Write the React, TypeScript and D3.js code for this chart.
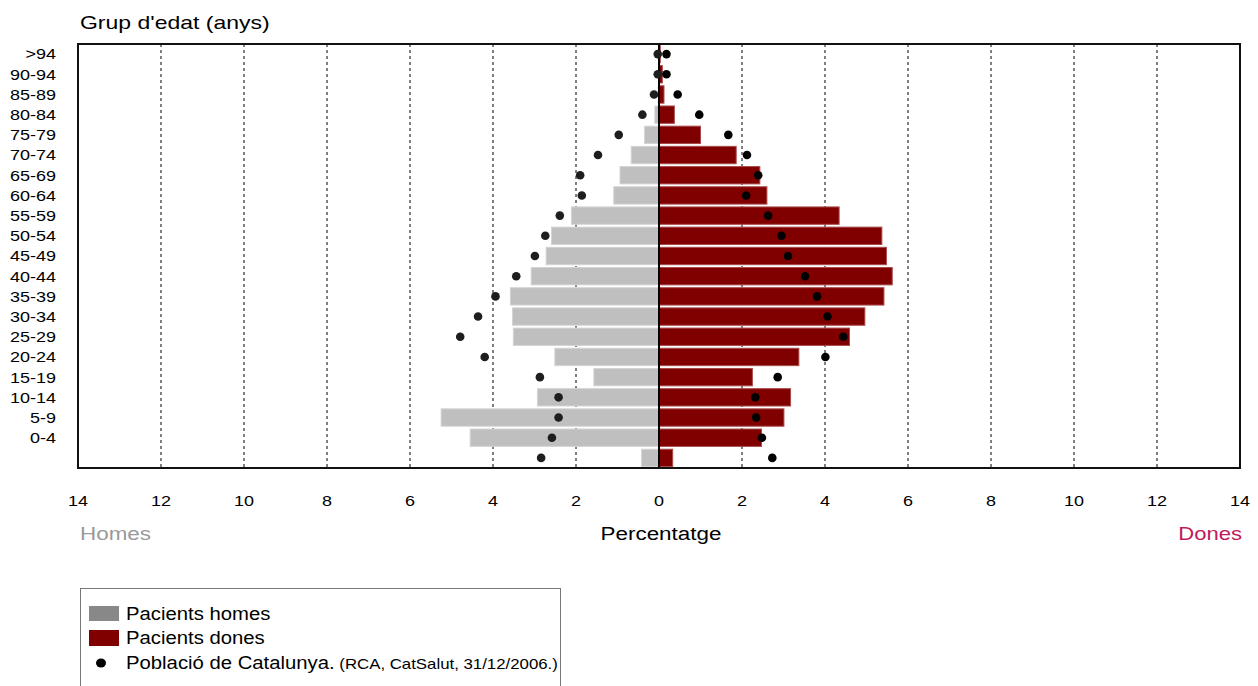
import React from "react";
import * as d3 from "d3";

const ageGroups = [">94", "90-94", "85-89", "80-84", "75-79", "70-74", "65-69", "60-64", "55-59", "50-54", "45-49", "40-44", "35-39", "30-34", "25-29", "20-24", "15-19", "10-14", "5-9", "0-4", ""];
const malePatients = [0.0, 0.0, 0.02, 0.1, 0.35, 0.67, 0.94, 1.09, 2.11, 2.59, 2.72, 3.08, 3.58, 3.53, 3.51, 2.51, 1.57, 2.93, 5.25, 4.55, 0.42];
const femalePatients = [0.03, 0.08, 0.12, 0.37, 1.0, 1.86, 2.43, 2.6, 4.34, 5.37, 5.48, 5.62, 5.42, 4.96, 4.59, 3.37, 2.25, 3.17, 3.01, 2.47, 0.33];
const malePopulation = [0.03, 0.03, 0.12, 0.4, 0.97, 1.47, 1.9, 1.86, 2.39, 2.74, 2.99, 3.44, 3.94, 4.36, 4.79, 4.2, 2.87, 2.42, 2.42, 2.58, 2.84];
const femalePopulation = [0.18, 0.18, 0.45, 0.97, 1.67, 2.12, 2.39, 2.1, 2.63, 2.95, 3.11, 3.52, 3.81, 4.06, 4.44, 4.01, 2.86, 2.32, 2.34, 2.48, 2.73];
const xTicks = [-14, -12, -10, -8, -6, -4, -2, 0, 2, 4, 6, 8, 10, 12, 14];

const FONT = "'Liberation Sans', Arial, sans-serif";

function Txt(props: { x: number; y: number; size: number; sx?: number; anchor?: string; fill?: string; dy?: string; children: React.ReactNode }) {
  const { x, y, size, sx = 1.2, anchor = "start", fill = "#000", dy, children } = props;
  return (
    <g transform={`translate(${x},${y}) scale(${sx},1)`}>
      <text x={0} y={0} dy={dy} fontSize={size} textAnchor={anchor} fill={fill}>{children}</text>
    </g>
  );
}

export default function App() {
  const W = 1258, H = 686;
  const left = 78, right = 1240, top = 44, bottom = 468;
  const x = d3.scaleLinear().domain([-14, 14]).range([left, right]);
  const idx = ageGroups.map((_, i) => String(i));
  const y = d3.scaleBand().domain(idx).range([top, bottom]).paddingInner(0.14).paddingOuter(0.07);
  const bw = y.bandwidth();
  const cy = (i: number) => (y(String(i)) as number) + bw / 2;
  const x0 = x(0);

  return (
    <svg width={W} height={H} style={{ position: "absolute", left: 0, top: 0, display: "block", fontFamily: FONT }}>
      <rect x={0} y={0} width={W} height={H} fill="#fff" />
      <Txt x={80} y={29} size={19} sx={1.21}>Grup d'edat (anys)</Txt>
      {xTicks.filter((t) => Math.abs(t) !== 14 && t !== 0).map((t) => (
        <line key={"g" + t} x1={x(t)} x2={x(t)} y1={top} y2={bottom} stroke="#000" strokeWidth={1} strokeDasharray="3,3" />
      ))}
      {malePatients.map((v, i) => (
        <rect key={"m" + i} x={x(-v)} y={y(String(i)) as number} width={x0 - x(-v)} height={bw} fill="#bfbfbf" stroke="#d4d4d4" strokeWidth={1} />
      ))}
      {femalePatients.map((v, i) => (
        <rect key={"f" + i} x={x0} y={y(String(i)) as number} width={x(v) - x0} height={bw} fill="#800000" stroke="#a84a4a" strokeWidth={1} />
      ))}
      <line x1={x0} x2={x0} y1={top} y2={bottom} stroke="#000" strokeWidth={2} />
      {malePopulation.map((v, i) => (
        <circle key={"mp" + i} cx={x(-v)} cy={cy(i)} r={4.3} fill="#1e1e1e" />
      ))}
      {femalePopulation.map((v, i) => (
        <circle key={"fp" + i} cx={x(v)} cy={cy(i)} r={4.3} fill="#000" />
      ))}
      <rect x={left} y={top} width={right - left} height={bottom - top} fill="none" stroke="#111" strokeWidth={2} />
      {ageGroups.map((g, i) => (
        <Txt key={"l" + i} x={56} y={cy(i)} dy="0.36em" anchor="end" size={15} sx={1.2}>{g}</Txt>
      ))}
      {xTicks.map((t) => (
        <Txt key={"t" + t} x={x(t)} y={506} anchor="middle" size={15.5} sx={1.16}>{Math.abs(t)}</Txt>
      ))}
      <Txt x={80} y={540} size={19} sx={1.18} fill="#999">Homes</Txt>
      <Txt x={x0 + 2} y={540} size={19} sx={1.18} anchor="middle">Percentatge</Txt>
      <Txt x={1242} y={540} size={19} sx={1.16} anchor="end" fill="#c0185a">Dones</Txt>
      <rect x={80.5} y={588.5} width={480} height={110} fill="#fff" stroke="#777" strokeWidth={1} />
      <rect x={89} y={606} width={30} height={15} fill="#888" />
      <Txt x={126} y={620} size={17.5} sx={1.16}>Pacients homes</Txt>
      <rect x={89} y={630} width={30} height={16} fill="#800000" />
      <Txt x={126} y={644} size={17.5} sx={1.16}>Pacients dones</Txt>
      <ellipse cx={101} cy={663} rx={5} ry={4.5} fill="#000" />
      <Txt x={126} y={669} size={17.5} sx={1.16}>
        Població de Catalunya.<tspan fontSize={14.5}> (RCA, CatSalut, 31/12/2006.)</tspan>
      </Txt>
    </svg>
  );
}
